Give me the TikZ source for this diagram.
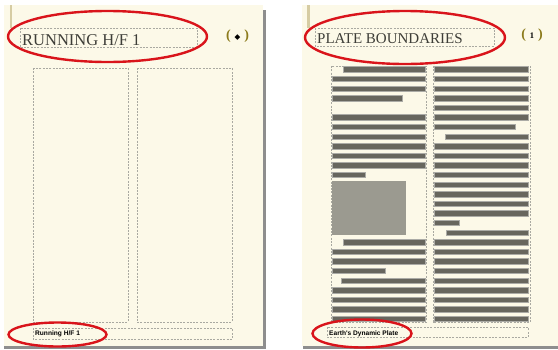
\documentclass[tikz,border=0pt]{standalone}
\usepackage{fontspec}
\setmainfont{Liberation Serif}
\newfontfamily\footfont{Liberation Sans}
\newfontfamily\markfont{DejaVu Sans}

\definecolor{pagecream}{HTML}{FCF9E8}
\definecolor{guidegray}{HTML}{A9A9A1}
\definecolor{bargray}{HTML}{67665E}
\definecolor{picgray}{HTML}{9B9A90}
\definecolor{edgegray}{HTML}{8E8E8E}
\definecolor{spinetan}{HTML}{D6CCA3}
\definecolor{markolive}{HTML}{8C7B1C}
\definecolor{ringred}{HTML}{D9141B}
\definecolor{headgray}{HTML}{3E3E38}

\tikzset{
  guide/.style={draw=guidegray, line width=0.8pt, dash pattern=on 2pt off 1.3pt},
  textbar/.style={fill=bargray, draw=bargray!55!white, line width=0.6pt},
  ring/.style={draw=ringred, line width=2.4pt},
  headtext/.style={anchor=base west, inner sep=0pt, text=headgray},
  foottext/.style={anchor=base west, inner sep=0pt, font=\footfont\bfseries\fontsize{6.6}{6.6}\selectfont},
  pagemark/.style={inner sep=0pt, font=\bfseries\fontsize{14}{14}\selectfont, text=markolive}
}

\begin{document}
\begin{tikzpicture}[x=1pt,y=-1pt]
\useasboundingbox (0,0) rectangle (558,349);
% pages
\fill[pagecream] (4,5) rectangle (263,346);
\fill[pagecream] (302,5) rectangle (558,345.5);
\draw[edgegray, line width=3pt] (264.5,10) -- (264.5,349);
\draw[edgegray, line width=2.6pt] (4,347.7) -- (266,347.7);
\draw[edgegray, line width=2.6pt] (303,347.2) -- (558,347.2);
\draw[spinetan, line width=2.5pt] (11,5) -- (11,28);
\draw[spinetan, line width=2.5pt] (308.5,5) -- (308.5,28);

% master page frames
\draw[guide] (20,28) rectangle (197,47);
\draw[guide] (33,68) rectangle (128,322);
\draw[guide] (137,68) rectangle (232,322);
\draw[guide] (33,328) rectangle (232,339);

% document page frames
\draw[guide] (315,28) rectangle (494,46);
\draw[guide] (331,66) rectangle (426.5,322);
\draw[guide] (433,66) rectangle (530,322);
\draw[guide] (327,327) rectangle (528,337);

% body text of the document page
\foreach \r/\a/\b in {1/343/425, 2/332/425, 3/332/425, 4/332/402, 6/332/425, 7/332/425,
                      8/332/425, 9/332/425, 10/332/425, 11/332/425, 12/332/365,
                      19/343/425, 20/332/425, 21/332/425, 22/332/385, 23/341/425,
                      24/332/425, 25/332/425, 26/332/425, 27/332/425}
  \filldraw[textbar] (\a,{66.7+(\r-1)*9.6}) rectangle (\b,{72+(\r-1)*9.6});
\foreach \r/\a/\b in {1/434/528, 2/434/528, 3/434/528, 4/434/528, 5/434/528, 6/434/528,
                      7/434/515, 8/445/528, 9/434/528, 10/434/528, 11/434/528, 12/434/528,
                      13/434/528, 14/434/528, 15/434/528, 16/434/528, 17/434/459, 18/446/528,
                      19/434/528, 20/434/528, 21/434/528, 22/434/528, 23/434/528, 24/434/528,
                      25/434/528, 26/434/528, 27/434/528}
  \filldraw[textbar] (\a,{66.7+(\r-1)*9.6}) rectangle (\b,{72+(\r-1)*9.6});
\fill[picgray] (332,181) rectangle (406,235);

% headers, page numbers, footers
\node[headtext, font=\fontsize{16.5}{16.5}\selectfont] (headL) at (22,45.3) {RUNNING H/F 1};
\node[headtext, font=\fontsize{15}{15}\selectfont] (headR) at (317,43.6) {PLATE BOUNDARIES};
\node[pagemark] (numL) at (237.5,36) {(\;\textcolor{black}{\markfont\fontsize{7.5}{7.5}\selectfont ◆}\;)};
\node[pagemark] (numR) at (532,35) {(\;\textcolor{black}{\fontsize{8.5}{8.5}\selectfont 1}\;)};
\node[foottext] (footL) at (35,335.2) {Running H/F 1};
\node[foottext] (footR) at (329,335.8) {Earth's Dynamic Plate};

% highlight rings
\draw[ring] (107.5,36.5) ellipse [x radius=99.5, y radius=25.5];
\draw[ring] (405,37.5) ellipse [x radius=100, y radius=26.5];
\draw[ring] (57.5,334.5) ellipse [x radius=49, y radius=12];
\draw[ring] (362,333.5) ellipse [x radius=49.5, y radius=14];
\end{tikzpicture}
\end{document}
